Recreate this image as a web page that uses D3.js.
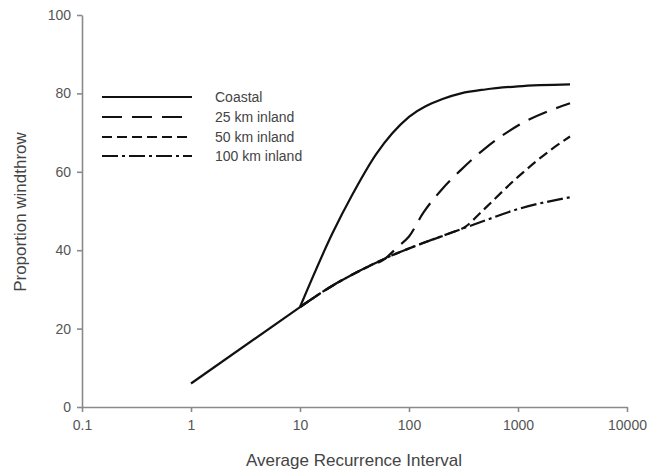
<!DOCTYPE html>
<html>
<head>
<meta charset="utf-8">
<script src="https://cdn.jsdelivr.net/npm/d3@7"></script>
<style>
  body { margin: 0; background: #fff; }
  svg { font-family: "Liberation Sans", Arial, sans-serif; }
  .axis path, .axis line { stroke: #8a8a8a; stroke-width: 1.6; }
  .axis text { fill: #555; font-size: 14px; }
</style>
</head>
<body>
<div id="chart"></div>
<script>
// data
var xTicks = [0.1, 1, 10, 100, 1000, 10000];
var yTicks = [0, 20, 40, 60, 80, 100];

// shared straight section from 1 to 10
var baseX = [1, 10];
var baseY = [6, 25.5];

var coastalX = [10, 20, 30, 50, 100, 200, 300, 500, 1000, 3000];
var coastalY = [25.5, 44.5, 54, 64.5, 74, 78.5, 80, 81, 81.8, 82.3];

var inland25X = [10, 20, 40, 60, 80, 100, 135, 200, 300, 500, 1000, 3000];
var inland25Y = [25.5, 31, 35.5, 37.8, 41, 43.5, 49.5, 55.5, 60.5, 66, 71.8, 77.5];

var inland50X = [10, 20, 40, 70, 120, 240, 330, 450, 1000, 2000, 3000];
var inland50Y = [25.5, 31, 35.5, 38.7, 41.3, 44.4, 46, 49.5, 58.7, 65.6, 69];

var inland100X = [10, 20, 40, 70, 120, 240, 400, 1000, 3000];
var inland100Y = [25.5, 31, 35.5, 38.7, 41.3, 44.4, 46.6, 50.5, 53.5];

var seriesNames = ["Coastal", "25 km inland", "50 km inland", "100 km inland"];
var seriesDash = ["none", "20,10", "10,5", "16,4,3,4"];

var svgWidth = 648;
var svgHeight = 474;

var svg = d3.select("#chart")
  .append("svg")
  .attr("width", svgWidth)
  .attr("height", svgHeight);

var x = d3.scaleLog()
  .domain([0.1, 10000])
  .range([82, 627]);

var y = d3.scaleLinear()
  .domain([0, 100])
  .range([407, 15]);

// axes
svg.append("g")
  .attr("class", "axis")
  .attr("transform", "translate(0,407)")
  .call(d3.axisBottom(x).tickValues(xTicks).tickFormat(d => String(d)).tickSize(5).tickSizeOuter(0).tickPadding(8));

svg.append("g")
  .attr("class", "axis")
  .attr("transform", "translate(82,0)")
  .call(d3.axisLeft(y).tickValues(yTicks).tickSize(5).tickSizeOuter(0).tickPadding(6));

// axis titles
svg.append("text")
  .attr("x", 354)
  .attr("y", 466)
  .attr("text-anchor", "middle")
  .attr("fill", "#444")
  .style("font-size", "17px")
  .text("Average Recurrence Interval");

svg.append("text")
  .attr("transform", "translate(26,212) rotate(-90)")
  .attr("text-anchor", "middle")
  .attr("fill", "#444")
  .style("font-size", "17px")
  .text("Proportion windthrow");

var line = d3.line()
  .x(d => x(d[0]))
  .y(d => y(d[1]))
  .curve(d3.curveMonotoneX);

function pairs(xs, ys) {
  return xs.map((v, i) => [v, ys[i]]);
}

var series = [
  pairs(coastalX, coastalY),
  pairs(inland25X, inland25Y),
  pairs(inland50X, inland50Y),
  pairs(inland100X, inland100Y)
];

svg.append("path")
  .attr("d", d3.line().x(d => x(d[0])).y(d => y(d[1]))(pairs(baseX, baseY)))
  .attr("fill", "none")
  .attr("stroke", "#111")
  .attr("stroke-width", 2.2);

svg.selectAll(".series")
  .data(series)
  .enter()
  .append("path")
  .attr("class", "series")
  .attr("d", line)
  .attr("fill", "none")
  .attr("stroke", "#111")
  .attr("stroke-width", 2.2)
  .attr("stroke-dasharray", (d, i) => seriesDash[i]);

// legend
var legend = svg.append("g");
var legendY = [97, 117, 137, 156];

seriesNames.forEach(function(name, i) {
  legend.append("line")
    .attr("x1", 102)
    .attr("x2", 192)
    .attr("y1", legendY[i])
    .attr("y2", legendY[i])
    .attr("stroke", "#111")
    .attr("stroke-width", 2.2)
    .attr("stroke-dasharray", seriesDash[i]);
  legend.append("text")
    .attr("x", 215)
    .attr("y", legendY[i] + 5)
    .attr("fill", "#444")
    .style("font-size", "14px")
    .text(name);
});
</script>
</body>
</html>
